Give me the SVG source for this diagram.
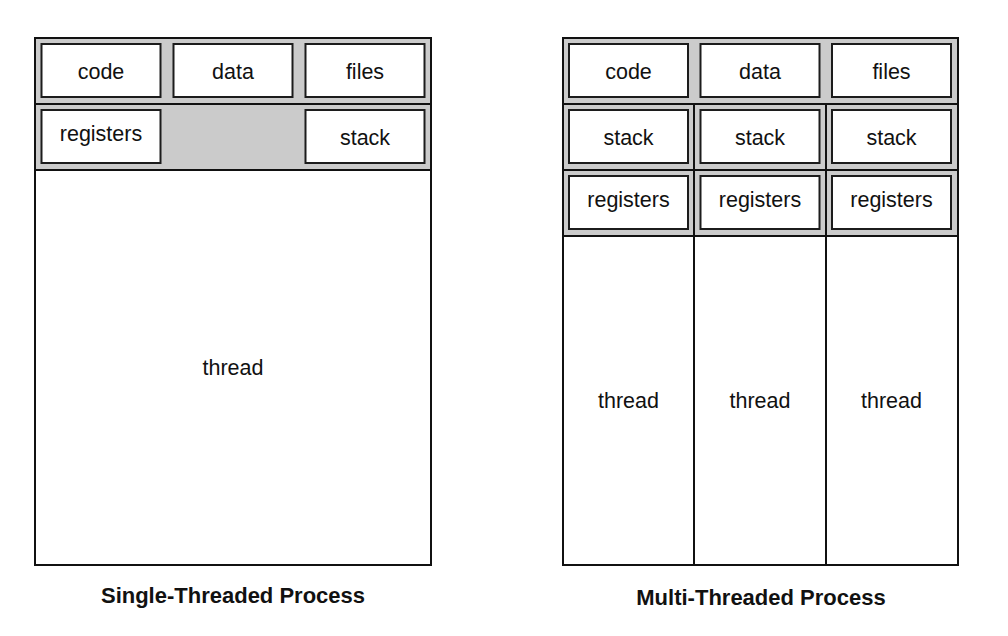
<svg xmlns="http://www.w3.org/2000/svg" width="1008" height="636" viewBox="0 0 1008 636">
  <style>
    .frame { fill: #ffffff; stroke: #111111; stroke-width: 2; }
    .outline { fill: none; stroke: #111111; stroke-width: 2; }
    .band { fill: #cbcbcb; stroke: none; }
    .sep { stroke: #111111; stroke-width: 2; fill: none; }
    .box { fill: #ffffff; stroke: #1c1c1c; stroke-width: 2; }
    .lbl { font-family: "Liberation Sans", Arial, sans-serif; font-size: 21.5px; fill: #111111; text-anchor: middle; }
    .title { font-family: "Liberation Sans", Arial, sans-serif; font-size: 22px; font-weight: bold; fill: #111111; text-anchor: middle; }
  </style>

  <!-- Single-threaded process: shared band and one thread -->
  <g id="single-process">
    <rect class="frame" x="35" y="38" width="396" height="527"/>
    <rect class="band" x="36" y="39" width="394" height="131"/>
    <line class="sep" x1="35" y1="104" x2="431" y2="104"/>
    <line class="sep" x1="35" y1="170" x2="431" y2="170"/>
    <rect class="outline" x="35" y="38" width="396" height="527"/>
  </g>
  <g id="single-code">
    <rect class="box" x="41.5" y="44" width="119" height="53"/>
    <text class="lbl" x="101" y="79">code</text>
  </g>
  <g id="single-data">
    <rect class="box" x="173.5" y="44" width="119" height="53"/>
    <text class="lbl" x="233" y="79">data</text>
  </g>
  <g id="single-files">
    <rect class="box" x="305.5" y="44" width="119" height="53"/>
    <text class="lbl" x="365" y="79">files</text>
  </g>
  <g id="single-registers">
    <rect class="box" x="41.5" y="110" width="119" height="53"/>
    <text class="lbl" x="101" y="141">registers</text>
  </g>
  <g id="single-stack">
    <rect class="box" x="305.5" y="110" width="119" height="53"/>
    <text class="lbl" x="365" y="145">stack</text>
  </g>
  <g id="single-thread">
    <text class="lbl" x="233" y="375">thread</text>
  </g>
  <g id="single-title">
    <text class="title" x="233" y="603">Single-Threaded Process</text>
  </g>

  <!-- Multi-threaded process: shared band plus per-thread stack and registers -->
  <g id="multi-process">
    <rect class="frame" x="563" y="38" width="395" height="527"/>
    <rect class="band" x="564" y="39" width="393" height="197"/>
    <line class="sep" x1="563" y1="104" x2="958" y2="104"/>
    <line class="sep" x1="563" y1="170" x2="958" y2="170"/>
    <line class="sep" x1="563" y1="236" x2="958" y2="236"/>
  </g>

  <!-- column dividers between threads -->
  <g id="connectors">
    <line class="sep" x1="694" y1="104" x2="694" y2="565"/>
    <line class="sep" x1="826" y1="104" x2="826" y2="565"/>
    <rect class="outline" x="563" y="38" width="395" height="527"/>
  </g>

  <g id="multi-code">
    <rect class="box" x="569" y="44" width="119" height="53"/>
    <text class="lbl" x="628.5" y="79">code</text>
  </g>
  <g id="multi-data">
    <rect class="box" x="700.5" y="44" width="119" height="53"/>
    <text class="lbl" x="760" y="79">data</text>
  </g>
  <g id="multi-files">
    <rect class="box" x="832" y="44" width="119" height="53"/>
    <text class="lbl" x="891.5" y="79">files</text>
  </g>

  <g id="multi-stack-1">
    <rect class="box" x="569" y="110" width="119" height="53"/>
    <text class="lbl" x="628.5" y="145">stack</text>
  </g>
  <g id="multi-stack-2">
    <rect class="box" x="700.5" y="110" width="119" height="53"/>
    <text class="lbl" x="760" y="145">stack</text>
  </g>
  <g id="multi-stack-3">
    <rect class="box" x="832" y="110" width="119" height="53"/>
    <text class="lbl" x="891.5" y="145">stack</text>
  </g>

  <g id="multi-registers-1">
    <rect class="box" x="569" y="176" width="119" height="53"/>
    <text class="lbl" x="628.5" y="207">registers</text>
  </g>
  <g id="multi-registers-2">
    <rect class="box" x="700.5" y="176" width="119" height="53"/>
    <text class="lbl" x="760" y="207">registers</text>
  </g>
  <g id="multi-registers-3">
    <rect class="box" x="832" y="176" width="119" height="53"/>
    <text class="lbl" x="891.5" y="207">registers</text>
  </g>

  <g id="multi-thread-1">
    <text class="lbl" x="628.5" y="408">thread</text>
  </g>
  <g id="multi-thread-2">
    <text class="lbl" x="760" y="408">thread</text>
  </g>
  <g id="multi-thread-3">
    <text class="lbl" x="891.5" y="408">thread</text>
  </g>

  <g id="multi-title">
    <text class="title" x="761" y="605">Multi-Threaded Process</text>
  </g>
</svg>
